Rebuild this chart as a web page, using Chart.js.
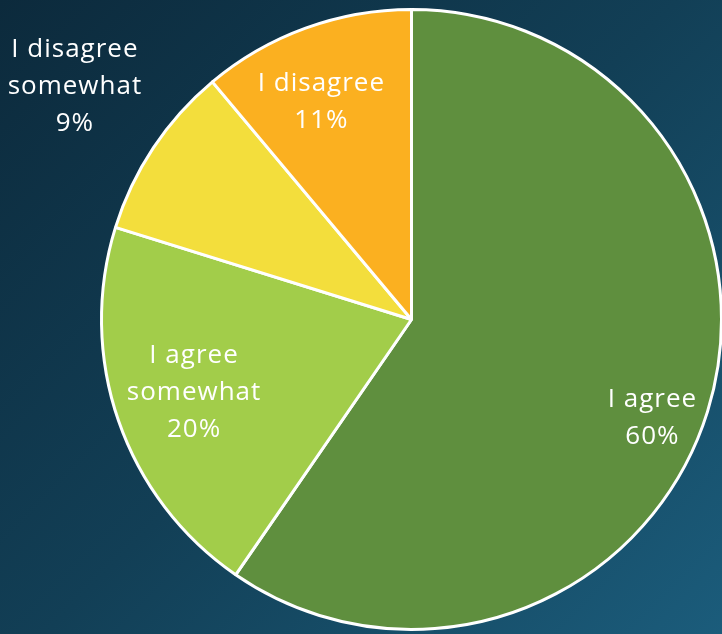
<!DOCTYPE html>
<html>
<head>
<meta charset="utf-8">
<script src="https://cdn.jsdelivr.net/npm/chart.js@4.4.1/dist/chart.umd.min.js"></script>
<style>
    html, body {
        margin: 0;
        padding: 0;
        width: 722px;
        height: 634px;
        overflow: hidden;
        background: linear-gradient(135deg, #0c2a3c 0%, #123f56 50%, #1b5c7b 100%);
    }
    #wrap {
        position: absolute;
        left: 0;
        top: 0;
        width: 740px;
        height: 634px;
    }
</style>
</head>
<body>
<div id="wrap"><canvas id="pie-chart"></canvas></div>
<script>
// Chart data (shares; labels show rounded percents)
const categories = [['I agree'], ['I agree', 'somewhat'], ['I disagree', 'somewhat'], ['I disagree']];
const shares = [59.6, 20.2, 9.1, 11.1];
const sliceColors = ['#5f8f3e', '#a2cd4a', '#f3de3c', '#fbb020'];

// Where each label sits: fraction of radius along the slice middle, plus a small turn (degrees)
const labelPlacement = [
    { r: 0.84, turn: 5 },
    { r: 0.74, turn: 0.5 },
    { r: 1.32, turn: 1 },
    { r: 0.76, turn: -2.5 }
];

// Draws the in-slice / outside labels
const sliceLabels = {
    id: 'sliceLabels',
    afterDatasetsDraw(chart) {
        const ctx = chart.ctx;
        const meta = chart.getDatasetMeta(0);
        const total = shares.reduce((a, b) => a + b, 0);
        ctx.save();
        ctx.fillStyle = '#ffffff';
        ctx.font = '26px "Open Sans"';
        ctx.textAlign = 'center';
        ctx.textBaseline = 'middle';
        if ('letterSpacing' in ctx) ctx.letterSpacing = '1px';
        meta.data.forEach((arc, i) => {
            const p = arc.getProps(['x', 'y', 'startAngle', 'endAngle', 'outerRadius'], true);
            const mid = (p.startAngle + p.endAngle) / 2 + labelPlacement[i].turn * Math.PI / 180;
            const dist = p.outerRadius * labelPlacement[i].r;
            const cx = p.x + Math.cos(mid) * dist;
            const cy = p.y + Math.sin(mid) * dist;
            const lines = categories[i].concat([Math.round(shares[i] / total * 100) + '%']);
            const lh = 37;
            const top = cy - (lines.length - 1) * lh / 2;
            lines.forEach((t, k) => ctx.fillText(t, cx, top + k * lh));
        });
        ctx.restore();
    }
};

const pieCtx = document.getElementById('pie-chart').getContext('2d');
const pieChart = new Chart(pieCtx, {
    type: 'pie',
    data: {
        labels: categories,
        datasets: [{
            data: shares,
            backgroundColor: sliceColors,
            borderColor: '#ffffff',
            borderWidth: 3
        }]
    },
    options: {
        responsive: true,
        maintainAspectRatio: false,
        animation: false,
        layout: {
            padding: { left: 100, right: 17, top: 8, bottom: 3 }
        },
        plugins: {
            legend: { display: false },
            tooltip: { enabled: false }
        }
    },
    plugins: [sliceLabels]
});
</script>
</body>
</html>
